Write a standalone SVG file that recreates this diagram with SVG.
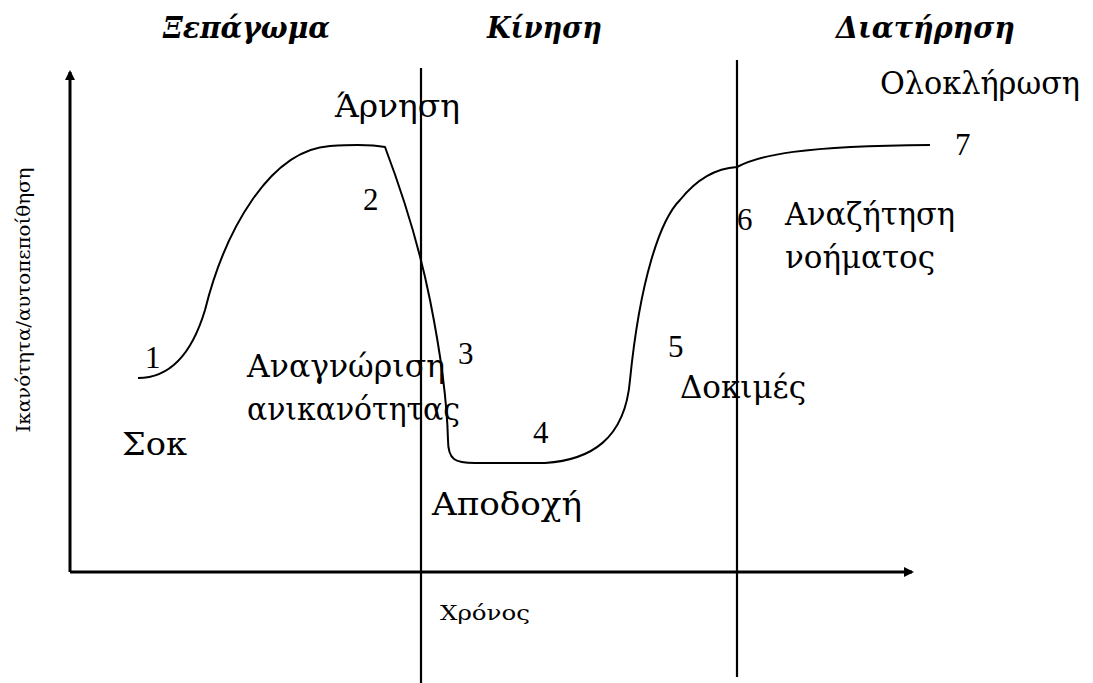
<svg xmlns="http://www.w3.org/2000/svg" width="1093" height="683" viewBox="0 0 1093 683">
<style>
.t{font-family:"Liberation Serif","Times New Roman",serif;fill:#000}
.g{font-family:"DejaVu Serif","Liberation Serif",serif;fill:#000}
.h{font-family:"DejaVu Serif","Liberation Serif",serif;font-weight:bold;font-style:italic;font-size:30px;fill:#000}
.l{font-size:31px}
.ax{stroke:#000;stroke-width:3;fill:none}
.v{stroke:#000;stroke-width:2.2;fill:none}
.c{stroke:#000;stroke-width:2;fill:none}
</style>
<defs>
<marker id="ah" markerWidth="10" markerHeight="10" refX="8" refY="5" orient="auto" markerUnits="userSpaceOnUse">
<path d="M0,0 L10,5 L0,10 Z" fill="#000"/>
</marker>
</defs>
<g id="titles">
<text class="h" x="163" y="38" textLength="167" lengthAdjust="spacingAndGlyphs">Ξεπάγωμα</text>
<text class="h" x="487" y="38" textLength="115" lengthAdjust="spacingAndGlyphs">Κίνηση</text>
<text class="h" x="836" y="38" textLength="179" lengthAdjust="spacingAndGlyphs">Διατήρηση</text>
</g>
<g id="connectors">
<line class="ax" x1="70" y1="572" x2="70" y2="72" marker-end="url(#ah)"/>
<line class="ax" x1="70" y1="572" x2="912" y2="572" marker-end="url(#ah)"/>
<line class="v" x1="421" y1="68" x2="421" y2="683"/>
<line class="v" x1="737" y1="60" x2="737" y2="677"/>
<path class="c" d="M138,378 C165,378 190,360 205,310 C225,230 270,150 330,146 C360,144 375,145 385,147 C405,200 420,250 430,300 C440,350 447,400 448,440 C448,460 455,463 475,463 L545,463 C590,460 625,440 630,380 C640,280 660,220 680,200 C700,175 720,168 737,167 C760,155 800,146 930,145"/>
</g>
<g id="labels">
<text class="t l" x="145" y="368">1</text>
<text class="g l" x="122" y="455" textLength="65" lengthAdjust="spacingAndGlyphs">Σοκ</text>
<text class="t l" x="363" y="210">2</text>
<text class="g l" x="335" y="117" textLength="125" lengthAdjust="spacingAndGlyphs">Άρνηση</text>
<text class="g l" x="247" y="377" textLength="198" lengthAdjust="spacingAndGlyphs">Αναγνώριση</text>
<text class="g l" x="247" y="420" textLength="213" lengthAdjust="spacingAndGlyphs">ανικανότητας</text>
<text class="t l" x="458" y="364">3</text>
<text class="t l" x="533" y="443">4</text>
<text class="g l" x="432" y="515" textLength="150" lengthAdjust="spacingAndGlyphs">Αποδοχή</text>
<text class="t l" x="668" y="357">5</text>
<text class="g l" x="680" y="398" textLength="126" lengthAdjust="spacingAndGlyphs">Δοκιμές</text>
<text class="t l" x="737" y="230">6</text>
<text class="g l" x="785" y="225" textLength="170" lengthAdjust="spacingAndGlyphs">Αναζήτηση</text>
<text class="g l" x="785" y="268" textLength="150" lengthAdjust="spacingAndGlyphs">νοήματος</text>
<text class="t l" x="955" y="155">7</text>
<text class="g" x="880" y="94" font-size="32" textLength="200" lengthAdjust="spacingAndGlyphs">Ολοκλήρωση</text>
<text class="g" x="440" y="620" font-size="21" textLength="90" lengthAdjust="spacingAndGlyphs">Χρόνος</text>
<text class="g" font-size="19" transform="translate(30,300) rotate(-90)" text-anchor="middle" textLength="265" lengthAdjust="spacingAndGlyphs">Ικανότητα/αυτοπεποίθηση</text>
</g>
</svg>
